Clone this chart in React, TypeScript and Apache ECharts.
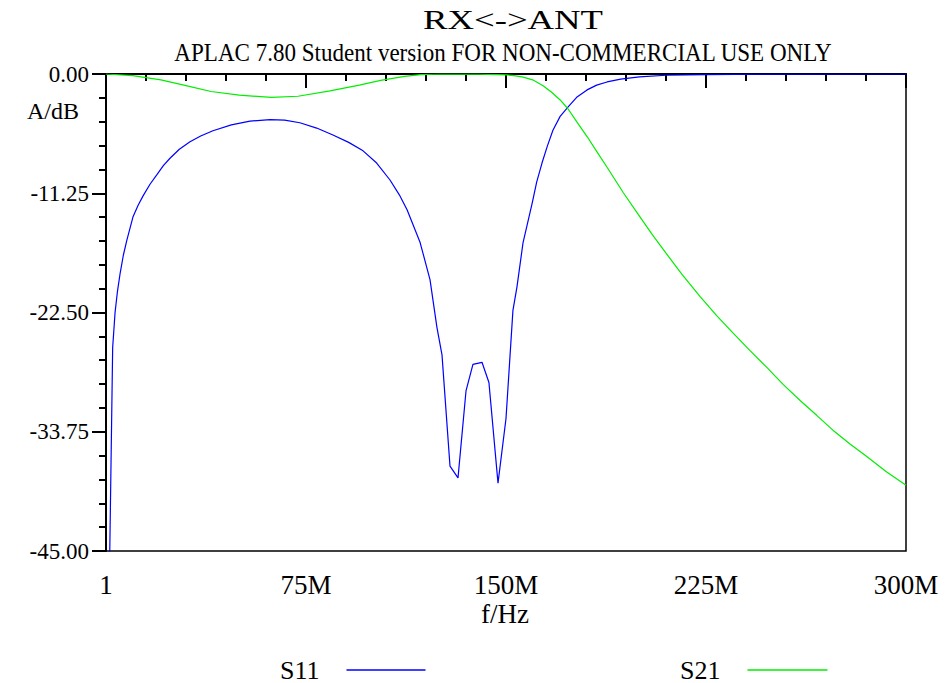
import React, { useEffect, useRef } from "react";
import * as echarts from "echarts";

// Frequencies in MHz, levels in dB
const s11Freq = [0.000001, 2.5, 3.4, 4.3, 5.3, 6.5, 7.8, 10.1, 12, 13.9, 16.5, 19.1, 21.5, 24, 27.5, 31.5, 35.5, 40.1, 47, 54, 61.5, 67, 72.7, 79, 85.1, 91, 96.4, 101.5, 106.5, 110, 112.9, 117.8, 121.5, 124.1, 126, 129, 132, 135, 137.6, 141, 143.6, 147, 150, 152.6, 154.1, 156.4, 159.8, 161.5, 163.5, 165.5, 167.6, 170.3, 173.3, 176.5, 180.4, 184, 187.9, 193, 200, 210, 225, 250, 300];
const s11Db = [-70, -25.8, -22.5, -20.5, -18.8, -17.1, -15.7, -13.5, -12.4, -11.5, -10.4, -9.5, -8.65, -7.95, -7.1, -6.4, -5.85, -5.35, -4.8, -4.45, -4.3, -4.35, -4.6, -5.1, -5.75, -6.45, -7.25, -8.4, -10.0, -11.4, -12.8, -15.9, -19.4, -23.9, -26.5, -37.0, -38.1, -29.9, -27.4, -27.2, -29.1, -38.6, -32.5, -22.3, -20.1, -15.9, -12.2, -10.2, -8.4, -6.8, -5.3, -4.0, -3.1, -2.2, -1.5, -1.05, -0.75, -0.48, -0.28, -0.12, -0.05, -0.015, 0];

const s21Freq = [0.000001, 10, 20.6, 30, 39.4, 50, 62, 72, 84, 95, 103, 112, 118, 125, 132, 140, 147, 150, 153, 156.4, 160, 163.9, 167, 170.3, 173.3, 176.5, 180.4, 184, 187.9, 194, 200.3, 205, 210, 216, 222.8, 229, 235, 241.5, 247.9, 254, 260.3, 266.5, 272.6, 279, 285.4, 292.5, 300];
const s21Db = [0, -0.15, -0.55, -1.1, -1.65, -2.0, -2.2, -2.1, -1.6, -1.05, -0.6, -0.22, -0.06, 0, -0.01, -0.02, -0.05, -0.08, -0.15, -0.3, -0.55, -1.1, -1.7, -2.45, -3.3, -4.5, -5.9, -7.3, -8.8, -11.2, -13.5, -15.2, -16.9, -18.9, -21.0, -22.8, -24.4, -26.1, -27.7, -29.3, -30.8, -32.2, -33.6, -34.9, -36.1, -37.5, -38.8];

const xTickLabels = ["1", "75M", "150M", "225M", "300M"];
const yMin = -45;
const yMax = 0;
const yStep = 11.25;

const SERIF = "'Liberation Serif', 'Times New Roman', serif";

export default function App() {
  const ref = useRef<HTMLDivElement>(null);
  useEffect(() => {
    document.body.style.margin = "0";
    const chart = echarts.init(ref.current!, null, { renderer: "svg" });
    chart.setOption({
      animation: false,
      backgroundColor: "#ffffff",
      grid: {
        left: 106,
        right: 42,
        top: 74,
        bottom: 132,
        show: true,
        borderColor: "#000",
        borderWidth: 1.5,
        containLabel: false,
      },
      graphic: [
        {
          type: "text",
          x: 513,
          y: 20,
          scaleX: 1.36,
          style: {
            text: "RX<->ANT",
            font: "27px " + SERIF,
            fill: "#000",
            align: "center",
            verticalAlign: "middle",
          },
        },
        {
          type: "text",
          x: 503,
          y: 53,
          scaleX: 0.922,
          style: {
            text: "APLAC 7.80 Student version FOR NON-COMMERCIAL USE ONLY",
            font: "25px " + SERIF,
            fill: "#000",
            align: "center",
            verticalAlign: "middle",
          },
        },
        {
          type: "text",
          x: 79,
          y: 111,
          style: {
            text: "A/dB",
            font: "24px " + SERIF,
            fill: "#000",
            align: "right",
            verticalAlign: "middle",
          },
        },
        {
          type: "text",
          x: 505,
          y: 614,
          style: {
            text: "f/Hz",
            font: "27px " + SERIF,
            fill: "#000",
            align: "center",
            verticalAlign: "middle",
          },
        },
      ],
      legend: [
        {
          data: ["S11"],
          left: 275,
          top: 652,
          align: "right",
          icon: "rect",
          itemWidth: 79,
          itemHeight: 1.5,
          textStyle: { fontFamily: SERIF, fontSize: 26, color: "#000", padding: [0, 22, 0, 0] },
          selectedMode: false,
        },
        {
          data: ["S21"],
          left: 675,
          top: 652,
          align: "right",
          icon: "rect",
          itemWidth: 80,
          itemHeight: 1.5,
          textStyle: { fontFamily: SERIF, fontSize: 26, color: "#000", padding: [0, 22, 0, 0] },
          selectedMode: false,
        },
      ],
      xAxis: {
        type: "value",
        min: 0,
        max: 300,
        interval: 75,
        axisLine: { show: true, lineStyle: { color: "#000", width: 2 } },
        axisTick: { show: true, inside: false, length: 14, lineStyle: { color: "#000", width: 2 } },
        minorTick: { show: true, splitNumber: 5, length: 7, lineStyle: { color: "#000", width: 2 } },
        splitLine: { show: false },
        axisLabel: {
          margin: 20,
          fontFamily: SERIF,
          fontSize: 27,
          color: "#000",
          formatter: (v: number) => xTickLabels[Math.round(v / 75)] ?? "",
        },
      },
      yAxis: {
        type: "value",
        min: yMin,
        max: yMax,
        interval: yStep,
        axisLine: { show: true, lineStyle: { color: "#000", width: 2 } },
        axisTick: { show: true, inside: false, length: 14, lineStyle: { color: "#000", width: 2 } },
        minorTick: { show: true, splitNumber: 5, length: 7, lineStyle: { color: "#000", width: 2 } },
        splitLine: { show: false },
        axisLabel: {
          margin: 17,
          fontFamily: SERIF,
          fontSize: 23,
          color: "#000",
          formatter: (v: number) => v.toFixed(2),
        },
      },
      series: [
        {
          name: "S11",
          type: "line",
          data: s11Freq.map((f, i) => [f, s11Db[i]]),
          showSymbol: false,
          symbol: "none",
          clip: true,
          lineStyle: { color: "#0000ff", width: 1.2 },
          itemStyle: { color: "#0000ff" },
        },
        {
          name: "S21",
          type: "line",
          data: s21Freq.map((f, i) => [f, s21Db[i]]),
          showSymbol: false,
          symbol: "none",
          clip: true,
          lineStyle: { color: "#00ee00", width: 1.2 },
          itemStyle: { color: "#00ee00" },
        },
      ],
    });
    return () => chart.dispose();
  }, []);
  return <div ref={ref} style={{ width: 948, height: 683 }} />;
}
